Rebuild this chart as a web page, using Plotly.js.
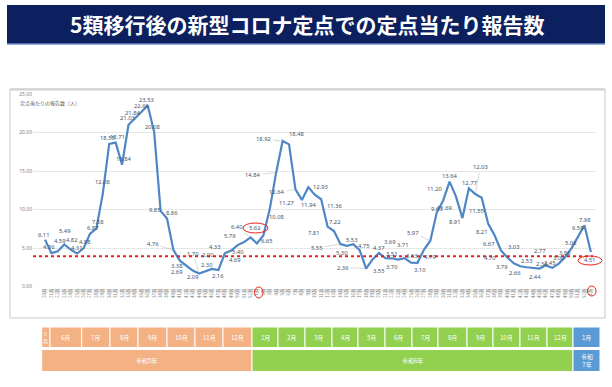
<!DOCTYPE html>
<html><head><meta charset="utf-8">
<script src="https://cdn.plot.ly/plotly-3.0.1.min.js"></script>
<style>html,body{margin:0;padding:0;background:#fff}#chart{width:612px;height:387px}</style>
</head><body><div id="chart"></div>
<script>
// ---- data ----
const weekLabels = [
 "20週","21週","22週","23週","24週","25週","26週","27週","28週","29週","30週","31週","32週","33週","34週","35週","36週","37週","38週","39週","40週","41週","42週","43週","44週","45週","46週","47週","48週","49週","50週","51週","52週",
 "1週","2週","3週","4週","5週","6週","7週","8週","9週","10週","11週","12週","13週","14週","15週","16週","17週","18週","19週","20週","21週","22週","23週","24週","25週","26週","27週","28週","29週","30週","31週","32週","33週","34週","35週","36週","37週","38週","39週","40週","41週","42週","43週","44週","45週","46週","47週","48週","49週","50週","51週","52週",
 "1週"];
const reports = [
 6.11,4.36,4.59,5.49,4.82,4.31,4.98,6.87,7.58,12.08,18.55,18.71,15.84,21.03,21.84,22.66,23.53,20.08,9.85,8.86,4.76,
 3.38,2.69,2.09,1.70,2.00,2.30,2.16,4.33,4.69,5.40,5.79,6.40,
 5.62,6.65,10.08,14.84,18.92,18.48,12.64,11.27,12.93,11.94,11.36,7.81,7.22,5.55,5.30,5.53,4.75,2.36,3.55,4.37,3.70,3.69,3.51,3.71,3.13,3.10,4.79,5.97,9.63,11.20,
 13.64,11.69,8.91,12.77,12.03,11.55,8.21,6.67,4.70,3.79,3.03,2.66,2.53,2.44,2.36,2.77,2.45,3.00,3.86,5.02,6.58,7.98,4.51];
const threshold = 3.94;
const monthsRow = ["5<br>月","6月","7月","8月","9月","10月","11月","12月","1月","2月","3月","4月","5月","6月","7月","8月","9月","10月","11月","12月","1月"];
const yearsRow = ["令和5年","令和6年","令和7年"];

// ---- label placement (pixel offsets, layout only) ----
const labelDx = [-1,-2,2,1,1,0,1,3,2,0,-2,2,2,-1,-2,1,-1,-1,-6,5,-20,
 -3,-9,0,-6,2,-5,0,-10,4,0,-14,-14,
 -2,4,7,-23,-19,8,-18,-15,12,-6,14,-14,1,-23,-5,-1,4,-23,6,0,7,-2,-6,-2,1,3,6,-17,0,-8,
 0,-11,-7,1,5,-5,-6,-6,-11,-5,0,-5,0,2,3,-6,-2,0,0,-1,0,1,-1];
const labelDy = [5,6,10,13,10,6,6,6,6,12,6,6,6,7,6,6,6,5,1,5,6,
 -5,-6,-6,20,16,4,-6,6,-9,-7,6,10,
 15,-6,-8,-3,2,10,-3,-3,0,-10,-7,-6,9,-4,-7,4,4,1,-12,5,-9,16,6,13,7,-7,-7,8,4,11,
 6,-11,-4,5,27,-13,-9,-9,-7,-9,16,-7,6,-9,5,14,5,6,4,5,8,5,-8];

// ---- layout constants (pixels) ----
const W=612,H=387;
const monthEdges=[41.7,50,81.7,110,138,167,195,223,252,278,305,332,358,385,412,438,467,493,520,547,573,600];
const monthYear=[0,0,0,0,0,0,0,0,1,1,1,1,1,1,1,1,1,1,1,1,2];
const yearEdges=[[41.7,252],[252,573],[573,600]];
const yearColors=["#f4b183","#92d050","#5b9bd5"];

const x = reports.map((_,i)=>i);
const px = v=>v/W, py=v=>1-v/H;
const shapes=[], annotations=[];
// banner
shapes.push({type:"rect",xref:"paper",yref:"paper",x0:px(7),x1:px(605),y0:py(5),y1:py(44),fillcolor:"#0c1f5e",line:{width:0},layer:"below"});
shapes.push({type:"line",xref:"paper",yref:"paper",x0:px(7),x1:px(605),y0:py(44),y1:py(44),line:{color:"#6f8fc9",width:1.5}});
annotations.push({xref:"paper",yref:"paper",x:px(307),y:py(24),text:"<b>5類移行後の新型コロナ定点での定点当たり報告数</b>",showarrow:false,font:{family:"Noto Sans CJK JP",size:21,color:"#ffffff"},xanchor:"center",yanchor:"middle"});
// chart box
shapes.push({type:"rect",xref:"paper",yref:"paper",x0:px(10),x1:px(605),y0:py(89),y1:py(318),line:{color:"#c8c8c8",width:1},fillcolor:"rgba(0,0,0,0)",layer:"below"});
shapes.push({type:"line",xref:"paper",yref:"paper",x0:px(10),x1:px(605),y0:py(89.5),y1:py(89.5),line:{color:"#d0d0d0",width:2}});
// threshold line
shapes.push({type:"line",xref:"paper",yref:"y",x0:px(33),x1:px(593),y0:threshold,y1:threshold,line:{color:"#e8211c",width:2,dash:"dot"}});
// table
for(let m=0;m<monthsRow.length;m++){
  shapes.push({type:"rect",xref:"paper",yref:"paper",x0:px(monthEdges[m]),x1:px(monthEdges[m+1]),y0:py(327),y1:py(347.5),fillcolor:yearColors[monthYear[m]],line:{color:"#ffffff",width:1}});
  annotations.push({xref:"paper",yref:"paper",x:px((monthEdges[m]+monthEdges[m+1])/2),y:py(337),text:monthsRow[m],showarrow:false,font:{family:"Noto Sans CJK JP",size:m===0?5:6,color:"#ffffff"},xanchor:"center",yanchor:"middle"});
}
for(let k=0;k<3;k++){
  shapes.push({type:"rect",xref:"paper",yref:"paper",x0:px(yearEdges[k][0]),x1:px(yearEdges[k][1]),y0:py(349.5),y1:py(371.5),fillcolor:yearColors[k],line:{color:"#ffffff",width:1}});
  annotations.push({xref:"paper",yref:"paper",x:px((yearEdges[k][0]+yearEdges[k][1])/2),y:py(360.5),text:k===2?"令和<br>7年":yearsRow[k],showarrow:false,font:{family:"Noto Sans CJK JP",size:6,color:"#ffffff"},xanchor:"center",yanchor:"middle"});
}
// y axis title
annotations.push({xref:"paper",yref:"paper",x:px(18),y:py(103),text:"定点当たりの報告数（人）",showarrow:false,xanchor:"left",yanchor:"middle",font:{family:"Noto Sans CJK JP",size:5,color:"#595959"}});
// data labels
const lblFont={family:"Noto Sans",size:5.8,color:"#44546a"};
reports.forEach((v,i)=>{
  const dx=labelDx[i]||0, dy=labelDy[i]||0;
  if(Math.hypot(dx,dy)>17){
    annotations.push({x:i,y:v,xref:"x",yref:"y",text:v.toFixed(2),showarrow:true,ax:dx,ay:-dy,arrowhead:0,arrowwidth:0.5,arrowcolor:"#b0b0b0",standoff:1,font:lblFont});
  } else {
    annotations.push({x:i,y:v,xref:"x",yref:"y",text:v.toFixed(2),showarrow:false,xshift:dx,yshift:dy,font:lblFont});
  }
});
// red ellipses
const circ=(x0,x1,y0,y1)=>shapes.push({type:"circle",xref:"paper",yref:"paper",x0:px(x0),x1:px(x1),y0:py(y0),y1:py(y1),line:{color:"#e8211c",width:1}});
circ(243,268,223,233); circ(578,602,256,265); circ(254.5,263,287,298); circ(587.5,596,286,296);

const trace={x:x,y:reports,type:"scatter",mode:"lines",line:{color:"#4f86c6",width:2.2},hoverinfo:"skip"};
const layout={
  width:W,height:H,margin:{l:0,r:0,t:0,b:0},paper_bgcolor:"#ffffff",plot_bgcolor:"rgba(0,0,0,0)",showlegend:false,
  xaxis:{domain:[px(33),px(596)],range:[-1.87,85.8],tickmode:"array",tickvals:x,ticktext:weekLabels,tickangle:-90,
    tickfont:{family:"Noto Sans CJK JP",size:4.5,color:"#7f7f7f"},showgrid:false,zeroline:false,showline:false,ticks:"",fixedrange:true},
  yaxis:{domain:[1-286.7/H,1-94.2/H],range:[0,25],dtick:5,tickformat:".2f",showgrid:true,gridcolor:"#e6e6e6",gridwidth:1,zeroline:false,
    tickfont:{family:"Noto Sans",size:5,color:"#7f7f7f"},ticks:"",showline:false,fixedrange:true},
  shapes:shapes,annotations:annotations
};
Plotly.newPlot("chart",[trace],layout,{staticPlot:true});
</script></body></html>
